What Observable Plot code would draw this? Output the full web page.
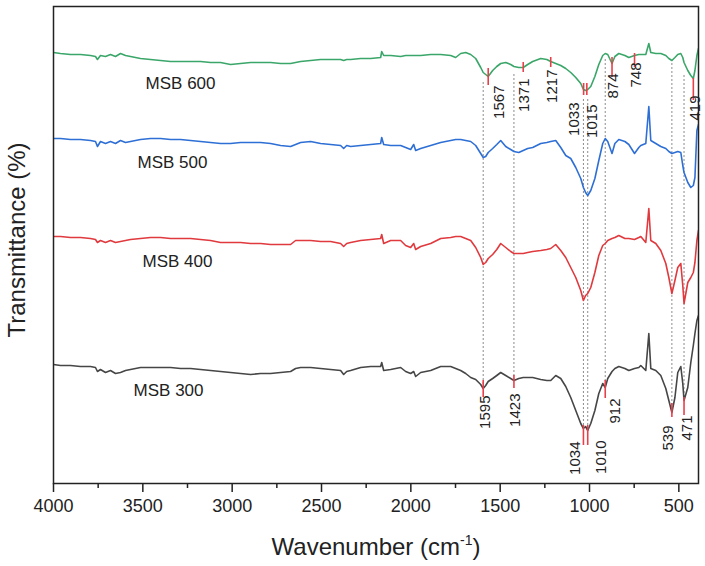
<!DOCTYPE html>
<html><head><meta charset="utf-8">
<script src="https://cdn.jsdelivr.net/npm/d3@7"></script>
<script src="https://cdn.jsdelivr.net/npm/@observablehq/plot@0.6"></script>
<style>body{margin:0;background:#fff}</style>
</head><body><div id="chart"></div>
<script>
// Wavenumber grid (cm-1) shared by all spectra
const wavenumbers = [4000,3961,3905,3849,3793,3765,3754,3737,3709,3681,
3653,3625,3597,3569,3513,3457,3401,3345,3289,3233,
3177,3121,3065,3009,2953,2897,2841,2785,2729,2673,
2645,2617,2561,2505,2449,2393,2376,2359,2337,2281,
2225,2169,2163,2152,2113,2057,2029,2001,1984,1973,
1945,1889,1833,1777,1749,1721,1693,1665,1637,1609,
1595,1581,1567,1542,1519,1497,1469,1441,1423,1396,
1371,1346,1318,1273,1239,1217,1189,1161,1133,1105,
1077,1049,1034,1022,1010,993,970,948,926,912,
898,874,858,836,802,780,748,724,713,685,
668,657,629,601,573,556,539,522,506,489,
478,471,450,433,419,410,399,390];

// Transmittance (offset, arbitrary units)
const msb600 = [431,430,429,429,428,427,424,428,427,429,
427,430,428,427,425,424,423,422,422,422,
422,421,421,419,420,421,421,421,420,420,
421,422,423,424,424,424,423,424,424,425,
425,426,432,428,428,427,428,428,428,428,
428,429,429,428,426,430,431,429,425,416,
411,409,407,413,417,420,421,419,417,416,
416,419,422,425,424,422,420,418,415,411,
406,400,394,393,394,397,407,419,428,430,
429,420,427,430,428,426,428,429,429,429,
440,431,430,430,428,425,423,426,429,430,
426,421,413,408,405,413,428,435];
const msb500 = [345,345,344,344,343,342,337,342,340,342,
340,343,341,342,344,345,345,344,344,343,
342,341,340,340,341,341,341,340,338,337,
339,341,342,340,339,338,335,338,337,338,
339,340,346,339,338,338,336,334,339,333,
335,338,341,343,344,344,343,342,338,330,
326,327,331,335,339,343,337,334,332,331,
333,335,336,340,341,342,343,336,328,325,
316,305,296,291,288,293,305,323,340,345,
342,330,340,344,342,339,330,336,338,340,
377,343,340,337,335,332,330,331,332,331,
318,311,301,296,298,306,353,359];
const msb400 = [247,247,246,246,245,244,241,243,241,243,
241,242,243,244,245,246,246,245,245,245,
244,243,241,241,241,240,240,239,239,239,
243,243,243,242,242,240,237,240,241,243,
244,245,249,240,243,243,238,236,240,234,
237,240,245,246,247,247,245,243,236,226,
219,221,225,229,234,240,236,232,230,230,
230,231,232,233,234,235,239,233,226,216,
206,193,183,188,190,196,211,228,238,240,
243,245,246,248,245,245,244,246,247,241,
275,243,240,233,220,206,190,203,216,220,
198,180,201,206,211,221,243,253];
const msb300 = [119,118,118,117,117,116,112,114,111,113,
110,111,113,114,116,116,116,116,115,115,
114,113,112,111,110,109,110,110,111,112,
115,116,116,115,114,113,109,112,113,116,
117,117,121,113,114,116,112,110,112,107,
111,113,117,117,115,113,110,106,104,99,
95,98,102,105,108,111,108,105,103,105,
106,106,106,104,103,103,108,105,97,86,
73,60,55,57,53,60,73,90,100,96,
105,112,115,117,115,113,115,116,118,113,
150,115,113,108,95,83,71,86,111,117,
100,83,96,121,138,150,163,168];

const seriesNames = ["MSB 600","MSB 500","MSB 400","MSB 300"];
const seriesColors = ["#3ba669","#2e6fd5","#e0393e","#464646"];
const seriesLabelX = [3289,3334,3306,3356];
const seriesLabelY = [400,321,222,93];

// Peaks marked on MSB 600
const peaks600 = [1567,1371,1217,1033,1015,874,748,419];
const peaks600Top = [415,421,426,400,400,426,430,405];
const peaks600Bottom = [398,411,416,388,388,406,416,383];
const labels600X = [1508,1368,1211,1088,987,870,741,410];
const labels600Y = [398,405,414,381,379,410,421,388];

// Peaks marked on MSB 300
const peaks300 = [1595,1423,1034,1010,912,539,471];
const peaks300Top = [103,108,58,58,103,80,86];
const peaks300Bottom = [86,95,38,38,85,66,68];
const labels300X = [1586,1418,1082,937,858,562,455];
const labels300Y = [88,90,42,43,85,58,68];
const guideTop = [401,410,386,386,425,423,410];
const guideBottom = [95,103,58,58,98,78,86];

const majorTicks = [4000,3500,3000,2500,2000,1500,1000,500];
const minorTicks = [3750,3250,2750,2250,1750,1250,750];

const allValues = [msb600, msb500, msb400, msb300];
const rows = [];
seriesNames.forEach((s, i) => wavenumbers.forEach((w, j) => rows.push({series: s, w, t: allValues[i][j]})));
const ticks600 = peaks600.map((w, i) => ({w, y1: peaks600Bottom[i], y2: peaks600Top[i]}));
const ticks300 = peaks300.map((w, i) => ({w, y1: peaks300Bottom[i], y2: peaks300Top[i]}));
const guides = peaks300.map((w, i) => ({w, y1: guideBottom[i], y2: guideTop[i]}));
const text600 = peaks600.map((p, i) => ({x: labels600X[i], y: labels600Y[i], label: String(p)}));
const text300 = peaks300.map((p, i) => ({x: labels300X[i], y: labels300Y[i], label: String(p)}));
const seriesText = seriesNames.map((s, i) => ({x: seriesLabelX[i], y: seriesLabelY[i], label: s}));

const chart = Plot.plot({
  width: 705, height: 566,
  marginLeft: 53, marginRight: 7, marginTop: 6, marginBottom: 83,
  style: {fontFamily: "'Liberation Sans', Arial, sans-serif", color: "#222", background: "#fff"},
  x: {domain: [4000, 390]},
  y: {domain: [0, 477], axis: null},
  color: {domain: seriesNames, range: seriesColors},
  marks: [
    Plot.ruleX(guides, {x: "w", y1: "y1", y2: "y2", stroke: "#8c8c8c", strokeWidth: 1, strokeDasharray: "2,2"}),
    Plot.line(rows, {x: "w", y: "t", z: "series", stroke: "series", strokeWidth: 1.6, clip: true}),
    Plot.ruleX(ticks600, {x: "w", y1: "y1", y2: "y2", stroke: "#e8404a", strokeWidth: 1.6}),
    Plot.ruleX(ticks300, {x: "w", y1: "y1", y2: "y2", stroke: "#e8404a", strokeWidth: 1.6}),
    Plot.text(text600, {x: "x", y: "y", text: "label", rotate: -90, textAnchor: "end", fontSize: 15, fill: "#222"}),
    Plot.text(text300, {x: "x", y: "y", text: "label", rotate: -90, textAnchor: "end", fontSize: 15, fill: "#222"}),
    Plot.text(seriesText, {x: "x", y: "y", text: "label", fontSize: 17, fill: "#222"}),
    Plot.frame({stroke: "#222", strokeWidth: 1.5}),
    Plot.axisX({ticks: majorTicks, tickSize: 9, tickPadding: 7, fontSize: 18, tickFormat: d => String(d), label: null, strokeWidth: 1.5}),
    Plot.axisX({ticks: minorTicks, tickSize: 5, tickFormat: () => "", label: null, strokeWidth: 1.5})
  ]
});
document.getElementById("chart").append(chart);

const svg = d3.select(chart);
const xl = svg.append("text")
  .attr("x", 376).attr("y", 555)
  .attr("text-anchor", "middle")
  .attr("font-size", 24).attr("fill", "#222");
xl.append("tspan").text("Wavenumber (cm");
xl.append("tspan").text("-1").attr("font-size", 14).attr("dy", -10);
xl.append("tspan").text(")").attr("dy", 10);

svg.append("text")
  .attr("transform", "translate(16,240) rotate(-90)")
  .attr("text-anchor", "middle")
  .attr("dominant-baseline", "central")
  .attr("font-size", 24).attr("fill", "#222")
  .text("Transmittance (%)");
</script>
</body></html>
